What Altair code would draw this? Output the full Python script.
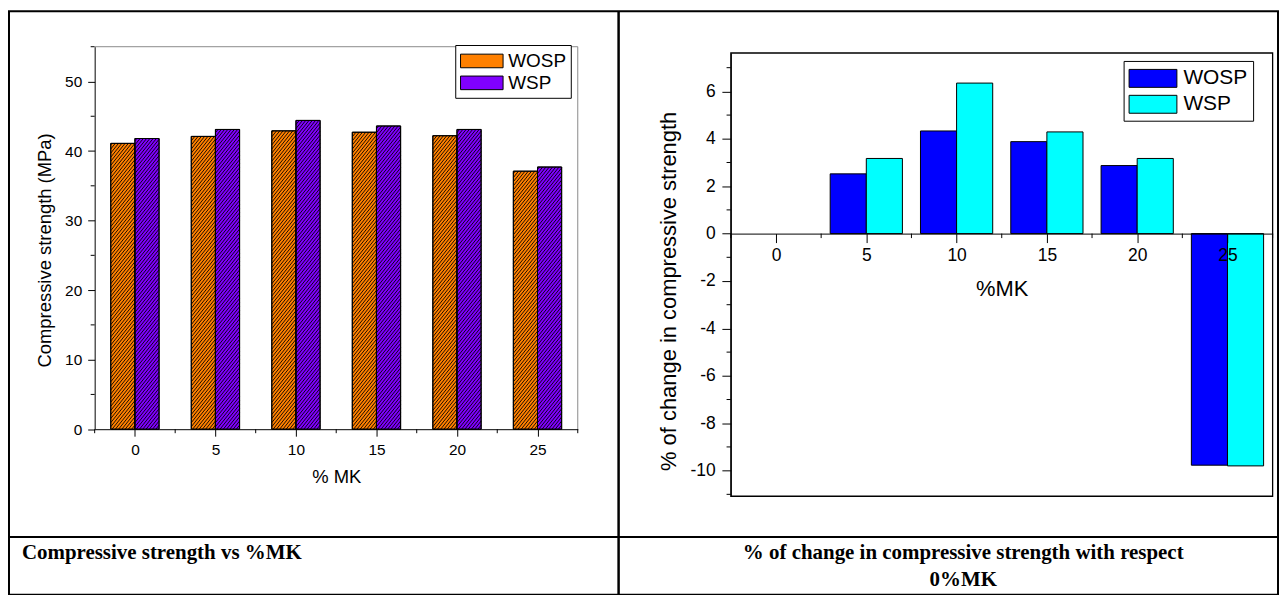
import altair as alt
import pandas as pd

# ---------------- data ----------------
mk = [0, 5, 10, 15, 20, 25]
series = ["WOSP", "WSP"]
strength_wosp = [41.1, 42.1, 42.9, 42.7, 42.2, 37.1]
strength_wsp = [41.8, 43.1, 44.4, 43.6, 43.1, 37.7]
change_wosp = [0.0, 2.52, 4.33, 3.88, 2.87, -9.77]
change_wsp = [0.0, 3.17, 6.35, 4.29, 3.17, -9.80]

left_x_ticks = [0, 5, 10, 15, 20, 25]
left_x_minor = [-2.5, 2.5, 7.5, 12.5, 17.5, 22.5, 27.5]
left_y_ticks = [0, 10, 20, 30, 40, 50]
left_y_minor = [5, 15, 25, 35, 45, 55]
right_x_ticks = [0, 5, 10, 15, 20, 25]
right_x_minor = [-2.5, 2.5, 7.5, 12.5, 17.5, 22.5, 27.5]
right_y_ticks = [-10, -8, -6, -4, -2, 0, 2, 4, 6]
right_y_minor = [-11, -9, -7, -5, -3, -1, 1, 3, 5, 7]

left_x_title = "% MK"
left_y_title = "Compressive strength (MPa)"
right_x_title = "%MK"
right_y_title = "%  of change in compressive strength"
caption_left = "Compressive strength  vs %MK"
caption_right_1 = "% of change in compressive strength with respect"
caption_right_2 = "0%MK"

left_colors = ["#FF8000", "#8000FF"]
right_colors = ["#0000FF", "#00FFFF"]

# ---------------- layout (pixels inside the table frame) ----------------
SANS = "Liberation Sans"
SERIF = "Liberation Serif"
W, H = 1274, 586
DIV_X, SEP_Y = 612, 528

L_X0, L_X1, L_YB, L_YT = 86, 571, 419.7, 35.7
L_XDOM, L_YDOM = [-2.5, 27.5], [0, 55]
R_X0, R_X1, R_YB, R_YT = 724.7, 1268.6, 487, 42
R_XDOM, R_YDOM = [-2.5, 27.5], [-11.08, 7.62]
R_Y0 = R_YB - (0 - R_YDOM[0]) / (R_YDOM[1] - R_YDOM[0]) * (R_YB - R_YT)

L_BW, R_BW = 1.5, 2.0
PX_X = (L_X1 - L_X0) / (L_XDOM[1] - L_XDOM[0])
PX_Y = (L_YB - L_YT) / (L_YDOM[1] - L_YDOM[0])
HATCH_SLOPE = 1.25 * PX_X / PX_Y          # data-units slope of the hatch
HATCH_DY = 4.1 / PX_Y                     # vertical spacing of hatch lines

lx = alt.Scale(domain=L_XDOM, range=[L_X0, L_X1], nice=False, zero=False)
ly = alt.Scale(domain=L_YDOM, range=[L_YB, L_YT], nice=False, zero=False)
rx = alt.Scale(domain=R_XDOM, range=[R_X0, R_X1], nice=False, zero=False)
ry = alt.Scale(domain=R_YDOM, range=[R_YB, R_YT], nice=False, zero=False)

common_axis = dict(grid=False, domainColor="black", tickColor="black", labelColor="black",
                   titleColor="black", labelFont=SANS, titleFont=SANS, titleFontWeight="normal",
                   labelFlush=False, labelOverlap=False, zindex=1, titleAlign="center",
                   titleBaseline="middle")

lx_axis = alt.Axis(values=left_x_ticks, orient="bottom", offset=L_YB - H, title=left_x_title,
                   titleX=(L_X0 + L_X1) / 2, titleY=48, titleFontSize=18.5, tickSize=7,
                   labelFontSize=15.5, labelPadding=13, labelBaseline="middle",
                   labelExpr="toString(datum.value)", **common_axis)
ly_axis = alt.Axis(values=left_y_ticks, orient="left", offset=-L_X0, title=left_y_title,
                   titleX=-50.3, titleY=239.7, titleFontSize=18.5, tickSize=7,
                   labelFontSize=15.5, labelPadding=6, labelExpr="toString(datum.value)",
                   **common_axis)
rx_axis = alt.Axis(values=right_x_ticks, orient="bottom", offset=R_Y0 - H, title=right_x_title,
                   titleX=996.6, titleY=55, titleFontSize=22, tickSize=9,
                   labelFontSize=17.5, labelPadding=13.5, labelBaseline="middle",
                   labelExpr="toString(datum.value)", **common_axis)
ry_axis = alt.Axis(values=right_y_ticks, orient="left", offset=-R_X0, title=right_y_title,
                   titleX=-62.7, titleY=280.8, titleFontSize=22, tickSize=9,
                   labelFontSize=17.5, labelPadding=6.7, labelExpr="toString(datum.value)",
                   **common_axis)

left_df = pd.DataFrame({"mk": mk * 2, "series": ["WOSP"] * 6 + ["WSP"] * 6,
                        "value": strength_wosp + strength_wsp})
right_df = pd.DataFrame({"mk": mk * 2, "series": ["WOSP"] * 6 + ["WSP"] * 6,
                         "value": change_wosp + change_wsp})
one = pd.DataFrame({"k": [0]})

# ---------------- left chart ----------------
def bar_pos(chart, bw):
    return chart.transform_calculate(
        x0=f"datum.mk + (datum.series === 'WOSP' ? {-bw} : 0)"
    ).transform_calculate(x1=f"datum.x0 + {bw}")

left_bars = bar_pos(alt.Chart(left_df), L_BW).mark_bar(stroke="black", strokeWidth=1).encode(
    x=alt.X("x0:Q", scale=lx, axis=lx_axis),
    x2="x1:Q",
    y=alt.Y("value:Q", scale=ly, axis=ly_axis),
    y2=alt.datum(0),
    color=alt.Color("series:N", scale=alt.Scale(domain=series, range=left_colors),
                    legend=alt.Legend(orient="none", legendX=448, legendY=34, title=None,
                                      symbolType="M-1,-0.64H3V0.64H-1Z", symbolSize=455.8,
                                      symbolStrokeColor="black", symbolStrokeWidth=1,
                                      symbolOpacity=1, labelFont=SANS, labelFontSize=19,
                                      labelColor="black", strokeColor="black",
                                      fillColor="white", padding=4.5, rowPadding=0,
                                      labelOffset=25.7,
                                      labelExpr="datum.label + '\u00a0'")),
)

hatch = bar_pos(alt.Chart(left_df), L_BW).transform_calculate(
    ks=f"sequence(0, ceil((datum.value + {HATCH_SLOPE * L_BW}) / {HATCH_DY}) + 1)"
).transform_flatten(["ks"]).transform_calculate(
    yl=f"datum.ks * {HATCH_DY} - {HATCH_SLOPE * L_BW}"
).transform_calculate(
    yr=f"datum.yl + {HATCH_SLOPE * L_BW}",
    xs=f"datum.yl < 0 ? datum.x0 + (-datum.yl) / {HATCH_SLOPE} : datum.x0",
    ys="max(datum.yl, 0)",
).transform_calculate(
    xe=f"datum.yr > datum.value ? datum.x0 + (datum.value - datum.yl) / {HATCH_SLOPE} : datum.x1",
    ye="min(datum.yr, datum.value)",
).transform_filter("datum.ye > datum.ys").mark_rule(color="black", strokeWidth=0.9).encode(
    x=alt.X("xs:Q", scale=lx, axis=lx_axis),
    x2="xe:Q",
    y=alt.Y("ys:Q", scale=ly, axis=ly_axis),
    y2="ye:Q",
)

left_outline = bar_pos(alt.Chart(left_df), L_BW).mark_bar(
    fillOpacity=0, stroke="black", strokeWidth=1).encode(
    x=alt.X("x0:Q", scale=lx, axis=lx_axis),
    x2="x1:Q",
    y=alt.Y("value:Q", scale=ly, axis=ly_axis),
    y2=alt.datum(0),
)

lminx = alt.Chart(pd.DataFrame({"v": left_x_minor})).mark_rule(color="black").encode(
    x=alt.X("v:Q", scale=lx, axis=lx_axis), y=alt.value(L_YB), y2=alt.value(L_YB + 4))
lminy = alt.Chart(pd.DataFrame({"v": left_y_minor})).mark_rule(color="black").encode(
    y=alt.Y("v:Q", scale=ly, axis=ly_axis), x=alt.value(L_X0 - 4), x2=alt.value(L_X0))

lframe_top = alt.Chart(one).mark_rule(color="#8a8a8a", strokeWidth=1).encode(
    x=alt.value(L_X0), x2=alt.value(L_X1), y=alt.value(L_YT))
lframe_right = alt.Chart(one).mark_rule(color="#8a8a8a", strokeWidth=1).encode(
    x=alt.value(L_X1), y=alt.value(L_YT), y2=alt.value(L_YB))

divider = alt.Chart(one).mark_rule(color="black", strokeWidth=2.5).encode(
    x=alt.value(DIV_X), y=alt.value(0), y2=alt.value(H))
separator = alt.Chart(one).mark_rule(color="black", strokeWidth=2).encode(
    y=alt.value(SEP_Y), x=alt.value(0), x2=alt.value(W))

CAP = dict(font=SERIF, fontWeight="bold", fontSize=21, baseline="middle", color="black")
cap_left = alt.Chart(one).mark_text(align="left", **CAP).encode(
    x=alt.value(13), y=alt.value(544), text=alt.value(caption_left))
cap_right1 = alt.Chart(one).mark_text(align="center", **CAP).encode(
    x=alt.value(958), y=alt.value(544), text=alt.value(caption_right_1))
cap_right2 = alt.Chart(one).mark_text(align="center", **CAP).encode(
    x=alt.value(958), y=alt.value(571), text=alt.value(caption_right_2))

left = alt.layer(left_bars, hatch, left_outline, lminx, lminy, lframe_top, lframe_right,
                 divider, separator, cap_left, cap_right1, cap_right2)

# ---------------- right chart ----------------
right_frame = alt.Chart(one).mark_rect(fillOpacity=0, stroke="black", strokeWidth=1.3).encode(
    x=alt.value(R_X0), x2=alt.value(R_X1), y=alt.value(R_YT), y2=alt.value(R_YB))

right_bars = bar_pos(alt.Chart(right_df), R_BW).mark_bar(strokeWidth=1).encode(
    x=alt.X("x0:Q", scale=rx, axis=rx_axis),
    x2="x1:Q",
    y=alt.Y("value:Q", scale=ry, axis=ry_axis),
    y2=alt.datum(0),
    stroke=alt.condition("datum.value === 0", alt.value("transparent"), alt.value("black")),
    color=alt.Color("series:N", scale=alt.Scale(domain=series, range=right_colors),
                    legend=alt.Legend(orient="none", legendX=1119, legendY=50, title=None,
                                      symbolType="M-1,-0.75H3V0.75H-1Z", symbolSize=576,
                                      symbolStrokeColor="black", symbolStrokeWidth=1,
                                      symbolOpacity=1, labelFont=SANS, labelFontSize=21,
                                      labelColor="black", strokeColor="black",
                                      fillColor="white", padding=5, rowPadding=2,
                                      labelOffset=30,
                                      labelExpr="datum.label + '\u00a0\u00a0'")),
)

rminx = alt.Chart(pd.DataFrame({"v": right_x_minor})).mark_rule(color="black").encode(
    x=alt.X("v:Q", scale=rx, axis=rx_axis), y=alt.value(R_Y0), y2=alt.value(R_Y0 + 4.5))
rminy = alt.Chart(pd.DataFrame({"v": right_y_minor})).mark_rule(color="black").encode(
    y=alt.Y("v:Q", scale=ry, axis=ry_axis), x=alt.value(R_X0 - 4.3), x2=alt.value(R_X0))

right = alt.layer(right_frame, right_bars, rminx, rminy)

chart = alt.layer(left, right).resolve_scale(
    x="independent", y="independent", color="independent", stroke="independent"
).resolve_axis(x="independent", y="independent").resolve_legend(
    color="independent"
).properties(width=W, height=H, padding=0, background="white").configure_view(
    stroke="black", strokeWidth=2
)

chart.save("out.html", embed_options={"renderer": "svg", "actions": False})
